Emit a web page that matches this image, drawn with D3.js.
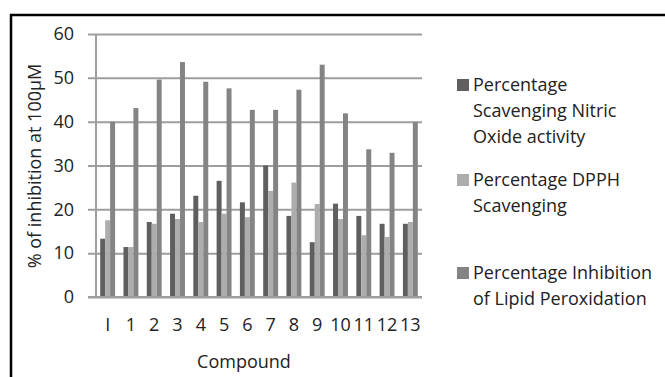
<!DOCTYPE html>
<html>
<head>
<meta charset="utf-8">
<script src="https://cdn.jsdelivr.net/npm/d3@7"></script>
<style>
  body { margin: 0; background: #fff; }
  text { font-family: 'Open Sans', sans-serif; fill: #222; }
</style>
</head>
<body>
<div id="chart"></div>
<script>
const compounds = ['I', '1', '2', '3', '4', '5', '6', '7', '8', '9', '10', '11', '12', '13'];
const nitricOxide = [13.3, 11.4, 17.1, 19.0, 23.1, 26.5, 21.6, 30.0, 18.5, 12.5, 21.3, 18.5, 16.7, 16.7];
const dpph = [17.5, 11.4, 16.7, 17.8, 17.1, 19.0, 18.2, 24.2, 26.1, 21.2, 17.8, 14.1, 13.7, 17.1];
const lipidPerox = [40.0, 43.1, 49.6, 53.6, 49.1, 47.6, 42.7, 42.7, 47.3, 53.0, 41.9, 33.7, 32.9, 39.9];
const seriesNames = [
  ['Percentage', 'Scavenging Nitric', 'Oxide activity'],
  ['Percentage DPPH', 'Scavenging'],
  ['Percentage Inhibition', 'of Lipid Peroxidation']
];
const yTicks = [0, 10, 20, 30, 40, 50, 60];

const colors = ['#5f5f5f', '#adadad', '#848484'];
const series = [nitricOxide, dpph, lipidPerox];

const W = 665, H = 377;
const plot = {left: 96, right: 422, top: 34, bottom: 297};
const fontSize = '18px';

const svg = d3.select('#chart').append('svg')
    .attr('width', W)
    .attr('height', H);

// outer frame (open at right and bottom like the cropped original)
svg.append('rect')
    .attr('x', 11).attr('y', 15)
    .attr('width', W + 10).attr('height', H + 10)
    .attr('fill', 'none')
    .attr('stroke', '#000')
    .attr('stroke-width', 2.5);

const x0 = d3.scaleBand()
    .domain(compounds)
    .range([plot.left, plot.right])
    .paddingInner(0.36)
    .paddingOuter(0.18);

const x1 = d3.scaleBand()
    .domain([0, 1, 2])
    .range([0, x0.bandwidth()]);

const y = d3.scaleLinear()
    .domain([0, 60])
    .range([plot.bottom, plot.top]);

// gridlines + tick labels
const yAxis = svg.append('g')
    .attr('transform', 'translate(' + plot.right + ',0)')
    .call(d3.axisLeft(y).tickValues(yTicks)
      .tickSize(plot.right - plot.left + 8)
      .tickPadding(14));
yAxis.select('.domain').remove();
yAxis.selectAll('line')
    .attr('stroke', '#9e9e9e')
    .attr('stroke-width', 2);
yAxis.selectAll('text')
    .style('font-family', "'Open Sans', sans-serif")
    .style('font-size', fontSize)
    .attr('fill', '#222');

// vertical axis line
svg.append('line')
    .attr('x1', plot.left).attr('x2', plot.left)
    .attr('y1', y(60)).attr('y2', y(0))
    .attr('stroke', '#9e9e9e')
    .attr('stroke-width', 2);

// bars
const groups = svg.selectAll('g.grp')
    .data(compounds)
  .enter().append('g')
    .attr('class', 'grp')
    .attr('transform', function(d) { return 'translate(' + x0(d) + ',0)'; });

groups.selectAll('rect')
    .data(function(d, i) { return series.map(function(s, k) { return {k: k, v: s[i]}; }); })
  .enter().append('rect')
    .attr('x', function(d) { return x1(d.k); })
    .attr('width', x1.bandwidth())
    .attr('y', function(d) { return y(d.v); })
    .attr('height', function(d) { return y(0) - y(d.v); })
    .attr('fill', function(d) { return colors[d.k]; });

// redraw baseline over the bars
svg.append('line')
    .attr('x1', plot.left - 8).attr('x2', plot.right)
    .attr('y1', y(0)).attr('y2', y(0))
    .attr('stroke', '#9e9e9e')
    .attr('stroke-width', 2);

// x labels
const xAxis = svg.append('g')
    .attr('transform', 'translate(0,' + y(0) + ')')
    .call(d3.axisBottom(x0).tickSize(0).tickPadding(21));
xAxis.select('.domain').remove();
xAxis.selectAll('text')
    .style('font-family', "'Open Sans', sans-serif")
    .style('font-size', fontSize)
    .attr('fill', '#222');

// axis titles
svg.append('text')
    .attr('x', 244).attr('y', 368)
    .attr('text-anchor', 'middle')
    .style('font-size', fontSize)
    .text('Compound');

svg.append('text')
    .attr('transform', 'translate(41,166) rotate(-90)')
    .attr('text-anchor', 'middle')
    .style('font-size', fontSize)
    .text('% of inhibition at 100µM');

// legend
const legendTop = [85, 180, 273];
const legend = svg.selectAll('g.leg')
    .data(seriesNames)
  .enter().append('g')
    .attr('class', 'leg')
    .attr('transform', function(d, i) { return 'translate(457,' + legendTop[i] + ')'; });

legend.append('rect')
    .attr('x', 0).attr('y', -6)
    .attr('width', 12).attr('height', 12)
    .attr('fill', function(d, i) { return colors[i]; });

legend.each(function(lines) {
  d3.select(this).selectAll('text')
      .data(lines)
    .enter().append('text')
      .attr('x', 16)
      .attr('y', function(d, j) { return j * 26; })
      .attr('dy', '0.35em')
      .style('font-size', fontSize)
      .text(function(d) { return d; });
});
</script>
</body>
</html>
